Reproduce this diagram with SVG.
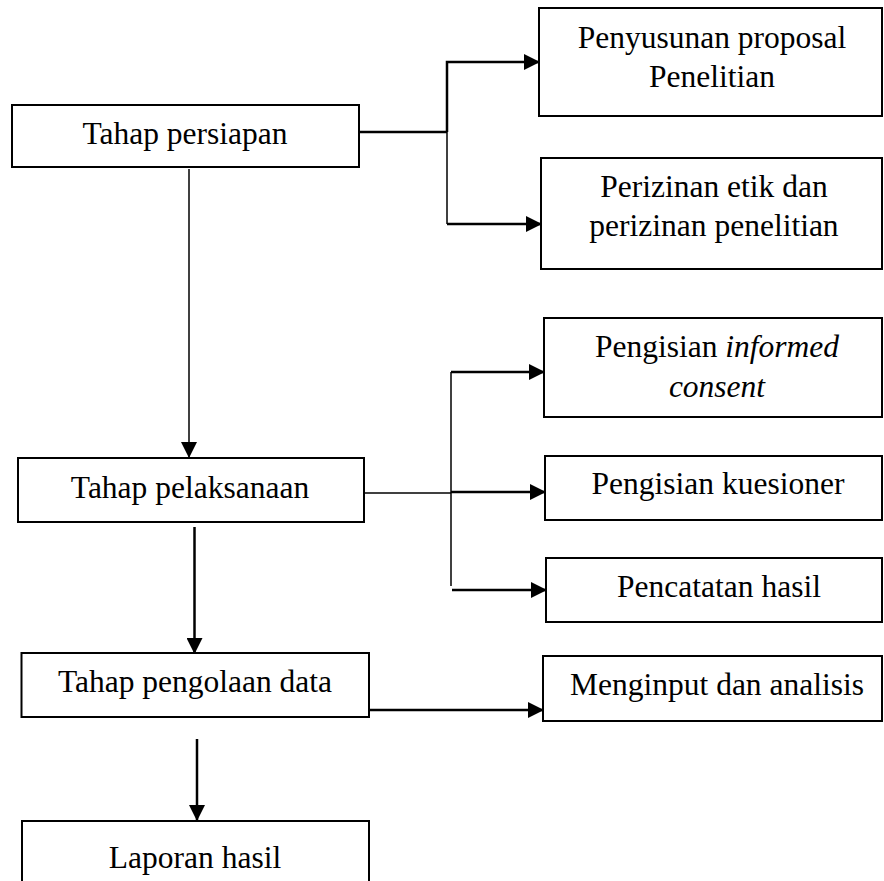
<svg xmlns="http://www.w3.org/2000/svg" width="884" height="881" viewBox="0 0 884 881">
<style>
.box{fill:#fff;stroke:#000;stroke-width:2}
.c{fill:none;stroke:#000;stroke-width:2.5}
.thin{fill:none;stroke:#000;stroke-width:1.5}
</style>
<defs>
<marker id="ah" markerUnits="userSpaceOnUse" markerWidth="16" markerHeight="16" viewBox="0 0 16 16" refX="15" refY="8" orient="auto">
<path d="M0,0 L16,8 L0,16 Z" fill="#000"/>
</marker>
</defs>
<rect width="884" height="881" fill="#fff"/>
<g id="connectors">
<path class="c" d="M359 132 H447"/>
<path class="c" d="M447 132 V62 H539" marker-end="url(#ah)"/>
<path class="thin" d="M447 132 V224"/>
<path class="c" d="M447 224 H541" marker-end="url(#ah)"/>
<path class="thin" d="M189 169 V457" marker-end="url(#ah)"/>
<path class="thin" d="M364 493 H451"/>
<path class="thin" d="M451 372 V586"/>
<path class="c" d="M451 372 H544" marker-end="url(#ah)"/>
<path class="c" d="M451 492 H545" marker-end="url(#ah)"/>
<path class="c" d="M452 590 H546" marker-end="url(#ah)"/>
<path class="c" d="M194.5 527 V653" marker-end="url(#ah)"/>
<path class="c" d="M369 710 H543" marker-end="url(#ah)"/>
<path class="c" d="M197 739 V820" marker-end="url(#ah)"/>
</g>
<g id="persiapan"><rect class="box" x="12" y="105" width="347" height="62"/><text x="185" y="144" font-family="Liberation Serif" font-size="31.5" text-anchor="middle">Tahap persiapan</text></g>
<g id="proposal"><rect class="box" x="539" y="8" width="343" height="108"/><text x="712" y="48" font-family="Liberation Serif" font-size="31.5" text-anchor="middle">Penyusunan proposal</text><text x="712" y="87" font-family="Liberation Serif" font-size="31.5" text-anchor="middle">Penelitian</text></g>
<g id="perizinan"><rect class="box" x="541" y="158" width="341" height="111"/><text x="714" y="197" font-family="Liberation Serif" font-size="31.5" text-anchor="middle">Perizinan etik dan</text><text x="714" y="236" font-family="Liberation Serif" font-size="31.5" text-anchor="middle">perizinan penelitian</text></g>
<g id="informed"><rect class="box" x="544" y="318" width="338" height="99"/><text x="717" y="357" font-family="Liberation Serif" font-size="31.5" text-anchor="middle">Pengisian <tspan font-family="Liberation Serif" font-style="italic">informed</tspan></text><text x="717" y="397" font-family="Liberation Serif" font-size="31.5" text-anchor="middle" font-style="italic">consent</text></g>
<g id="pelaksanaan"><rect class="box" x="18" y="458" width="346" height="64"/><text x="190" y="498" font-family="Liberation Serif" font-size="31.5" text-anchor="middle">Tahap pelaksanaan</text></g>
<g id="kuesioner"><rect class="box" x="545" y="456" width="337" height="64"/><text x="718" y="494" font-family="Liberation Serif" font-size="31.5" text-anchor="middle">Pengisian kuesioner</text></g>
<g id="pencatatan"><rect class="box" x="546" y="558" width="336" height="64"/><text x="719" y="597" font-family="Liberation Serif" font-size="31.5" text-anchor="middle">Pencatatan hasil</text></g>
<g id="pengolaan"><rect class="box" x="21.5" y="653" width="347.5" height="64"/><text x="195" y="692" font-family="Liberation Serif" font-size="31.5" text-anchor="middle">Tahap pengolaan data</text></g>
<g id="menginput"><rect class="box" x="543" y="656" width="339" height="65"/><text x="717" y="695" font-family="Liberation Serif" font-size="31.5" text-anchor="middle">Menginput dan analisis</text></g>
<g id="laporan"><rect class="box" x="22" y="821" width="347" height="80"/><text x="195" y="868" font-family="Liberation Serif" font-size="31.5" text-anchor="middle">Laporan hasil</text></g>
</svg>
